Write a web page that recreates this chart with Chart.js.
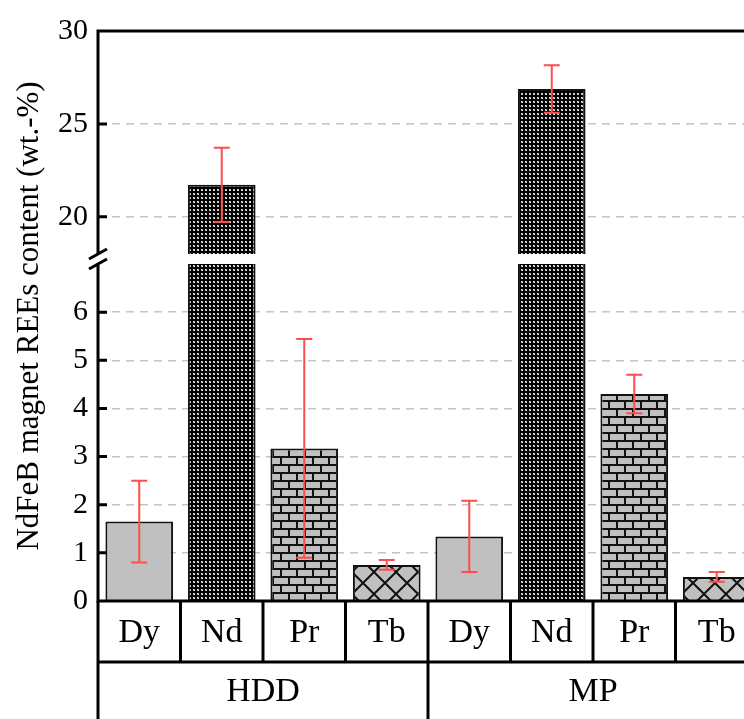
<!DOCTYPE html>
<html>
<head>
<meta charset="utf-8">
<script src="https://cdn.jsdelivr.net/npm/chart.js@4.4.1/dist/chart.umd.min.js"></script>
<style>
  html, body { margin: 0; padding: 0; background: #fff; overflow: hidden; }
  #wrap { width: 744px; height: 719px; overflow: hidden; }
</style>
</head>
<body>
<div id="wrap"><canvas id="chart" width="762" height="719"></canvas></div>
<script>
// data
const elements = ['Dy', 'Nd', 'Pr', 'Tb', 'Dy', 'Nd', 'Pr', 'Tb'];
const groups = ['HDD', 'MP'];
const contents = [1.65, 21.72, 3.17, 0.75, 1.34, 26.88, 4.30, 0.50];
const errors = [0.85, 2.00, 2.27, 0.10, 0.74, 1.28, 0.40, 0.10];
const yTicks = [0, 1, 2, 3, 4, 5, 6, 20, 25, 30];
const lowerRange = [0, 7];
const upperRange = [18, 30];

const FONT = "'Liberation Serif', 'Times New Roman', serif";

// y axis with a break between 7 and 18
const LOWER_FRAC = 337 / 570, GAP_FRAC = 10 / 570, UPPER_FRAC = 223 / 570;
class BrokenScale extends Chart.LinearScale {
  static id = 'broken';
  buildTicks() {
    return yTicks.map(v => ({ value: v }));
  }
  toDecimal(v) {
    if (v <= lowerRange[1]) return (v - lowerRange[0]) / (lowerRange[1] - lowerRange[0]) * LOWER_FRAC;
    if (v < upperRange[0]) return LOWER_FRAC + (v - lowerRange[1]) / (upperRange[0] - lowerRange[1]) * GAP_FRAC;
    return LOWER_FRAC + GAP_FRAC + (v - upperRange[0]) / (upperRange[1] - upperRange[0]) * UPPER_FRAC;
  }
  getPixelForValue(v) {
    return this.getPixelForDecimal(this.toDecimal(v));
  }
  getValueForPixel(p) {
    const d = this.getDecimalForPixel(p);
    if (d <= LOWER_FRAC) return lowerRange[0] + d / LOWER_FRAC * (lowerRange[1] - lowerRange[0]);
    if (d < LOWER_FRAC + GAP_FRAC) return lowerRange[1] + (d - LOWER_FRAC) / GAP_FRAC * (upperRange[0] - lowerRange[1]);
    return upperRange[0] + (d - LOWER_FRAC - GAP_FRAC) / UPPER_FRAC * (upperRange[1] - upperRange[0]);
  }
}
Chart.register(BrokenScale);

// fill patterns
function makePattern(w, h, draw) {
  const c = document.createElement('canvas');
  c.width = w; c.height = h;
  const g = c.getContext('2d');
  draw(g, w, h);
  return g.createPattern(c, 'repeat');
}
const dense = makePattern(4, 4, g => {
  g.fillStyle = '#000'; g.fillRect(0, 0, 4, 4);
  g.fillStyle = '#a8a8a8'; g.fillRect(1, 1, 2, 2);
  g.fillStyle = '#f0f0f0'; g.fillRect(1, 1, 1, 1); g.fillRect(2, 2, 1, 1);
});
const brick = makePattern(16, 16, g => {
  g.fillStyle = '#c0c0c0'; g.fillRect(0, 0, 16, 16);
  g.fillStyle = '#111';
  g.fillRect(0, 0, 16, 2);
  g.fillRect(0, 8, 16, 2);
  g.fillRect(0, 0, 2, 8);
  g.fillRect(8, 8, 2, 8);
});
const hatch = makePattern(22, 22, g => {
  g.fillStyle = '#c0c0c0'; g.fillRect(0, 0, 22, 22);
  g.strokeStyle = '#111'; g.lineWidth = 2;
  g.beginPath();
  for (const dx of [-22, 0, 22]) {
    g.moveTo(dx, 0); g.lineTo(dx + 22, 22);
    g.moveTo(dx + 22, 0); g.lineTo(dx, 22);
  }
  g.stroke();
});
const fills = { Dy: '#c0c0c0', Nd: dense, Pr: brick, Tb: hatch };

// break, error bars, axis lines and the label table
const decorations = {
  id: 'decorations',
  afterDatasetsDraw(chart) {
    const { ctx, chartArea: { left, right, top, bottom }, scales: { x, y } } = chart;
    const gapTop = y.getPixelForValue(upperRange[0]);
    const gapBottom = y.getPixelForValue(lowerRange[1]);
    ctx.save();
    ctx.fillStyle = '#fff';
    ctx.fillRect(left + 2, gapTop, right - left + 10, gapBottom - gapTop);

    // error bars
    ctx.strokeStyle = '#ff4d4d';
    ctx.lineWidth = 2;
    const meta = chart.getDatasetMeta(0);
    meta.data.forEach((bar, i) => {
      const yHi = y.getPixelForValue(contents[i] + errors[i]);
      const yLo = y.getPixelForValue(contents[i] - errors[i]);
      ctx.beginPath();
      ctx.moveTo(bar.x, yHi); ctx.lineTo(bar.x, yLo);
      ctx.moveTo(bar.x - 8, yHi); ctx.lineTo(bar.x + 8, yHi);
      ctx.moveTo(bar.x - 8, yLo); ctx.lineTo(bar.x + 8, yLo);
      ctx.stroke();
    });

    // axes
    ctx.strokeStyle = '#000';
    ctx.lineWidth = 3;
    ctx.beginPath();
    ctx.moveTo(left, top); ctx.lineTo(right + 10, top);
    ctx.moveTo(left, top - 1.5); ctx.lineTo(left, gapTop + 1);
    ctx.moveTo(left, gapBottom - 1); ctx.lineTo(left, bottom);
    ctx.moveTo(left - 1.5, bottom); ctx.lineTo(right + 10, bottom);
    // break marks
    for (const c of [gapTop, gapBottom]) {
      ctx.moveTo(left - 9, c + 5); ctx.lineTo(left + 9, c - 5);
    }
    // inward tick marks
    y.ticks.forEach(t => {
      if (t.value === 0 || t.value === upperRange[1]) return;
      const py = y.getPixelForValue(t.value);
      ctx.moveTo(left, py); ctx.lineTo(left + 9, py);
    });
    ctx.stroke();
    ctx.restore();
  },
  afterDraw(chart) {
    const { ctx, chartArea: { left, right, bottom }, scales: { x } } = chart;
    const rowSplit = bottom + 61;
    const tableBottom = x.bottom;
    const perGroup = elements.length / groups.length;
    ctx.save();
    ctx.strokeStyle = '#000';
    ctx.lineWidth = 3;
    ctx.beginPath();
    ctx.moveTo(left - 1.5, rowSplit); ctx.lineTo(right + 10, rowSplit);
    ctx.moveTo(left, bottom); ctx.lineTo(left, tableBottom);
    for (let i = 0; i < elements.length - 1; i++) {
      const px = (x.getPixelForValue(i) + x.getPixelForValue(i + 1)) / 2;
      const groupEdge = (i + 1) % perGroup === 0;
      ctx.moveTo(px, bottom); ctx.lineTo(px, groupEdge ? tableBottom : rowSplit);
    }
    ctx.stroke();

    ctx.fillStyle = '#000';
    ctx.font = '34px ' + FONT;
    ctx.textAlign = 'center';
    ctx.textBaseline = 'middle';
    groups.forEach((g, k) => {
      const a = x.getPixelForValue(k * perGroup);
      const b = x.getPixelForValue(k * perGroup + perGroup - 1);
      ctx.fillText(g, (a + b) / 2, rowSplit + 30);
    });
    ctx.restore();
  }
};

new Chart(document.getElementById('chart'), {
  type: 'bar',
  data: {
    labels: elements,
    datasets: [{
      data: contents,
      backgroundColor: elements.map(e => fills[e]),
      borderColor: '#111',
      borderWidth: 2,
      barPercentage: 0.82,
      categoryPercentage: 1
    }]
  },
  options: {
    responsive: false,
    animation: false,
    layout: { padding: { top: 31, right: 4, left: 0, bottom: 0 } },
    plugins: { legend: { display: false }, tooltip: { enabled: false } },
    scales: {
      x: {
        type: 'category',
        grid: { display: false, drawTicks: false },
        border: { display: false },
        ticks: { color: '#000', padding: 12, font: { family: FONT, size: 34 } },
        afterFit(scale) { scale.height = 118; }
      },
      y: {
        type: 'broken',
        min: 0,
        max: 30,
        grid: {
          drawTicks: false,
          lineWidth: 1.5,
          color: c => (c.tick && (c.tick.value === 0 || c.tick.value === 30)) ? 'rgba(0,0,0,0)' : '#c4c4c4'
        },
        border: { display: false, dash: [8, 6] },
        ticks: {
          color: '#000',
          padding: 10,
          font: { family: FONT, size: 30 },
          callback: v => String(v)
        },
        title: {
          display: true,
          text: 'NdFeB magnet REEs content (wt.-%)',
          color: '#000',
          font: { family: FONT, size: 31 },
          padding: { top: 11, bottom: 0 }
        },
        afterFit(scale) { scale.width = 98; }
      }
    }
  },
  plugins: [decorations]
});
</script>
</body>
</html>
